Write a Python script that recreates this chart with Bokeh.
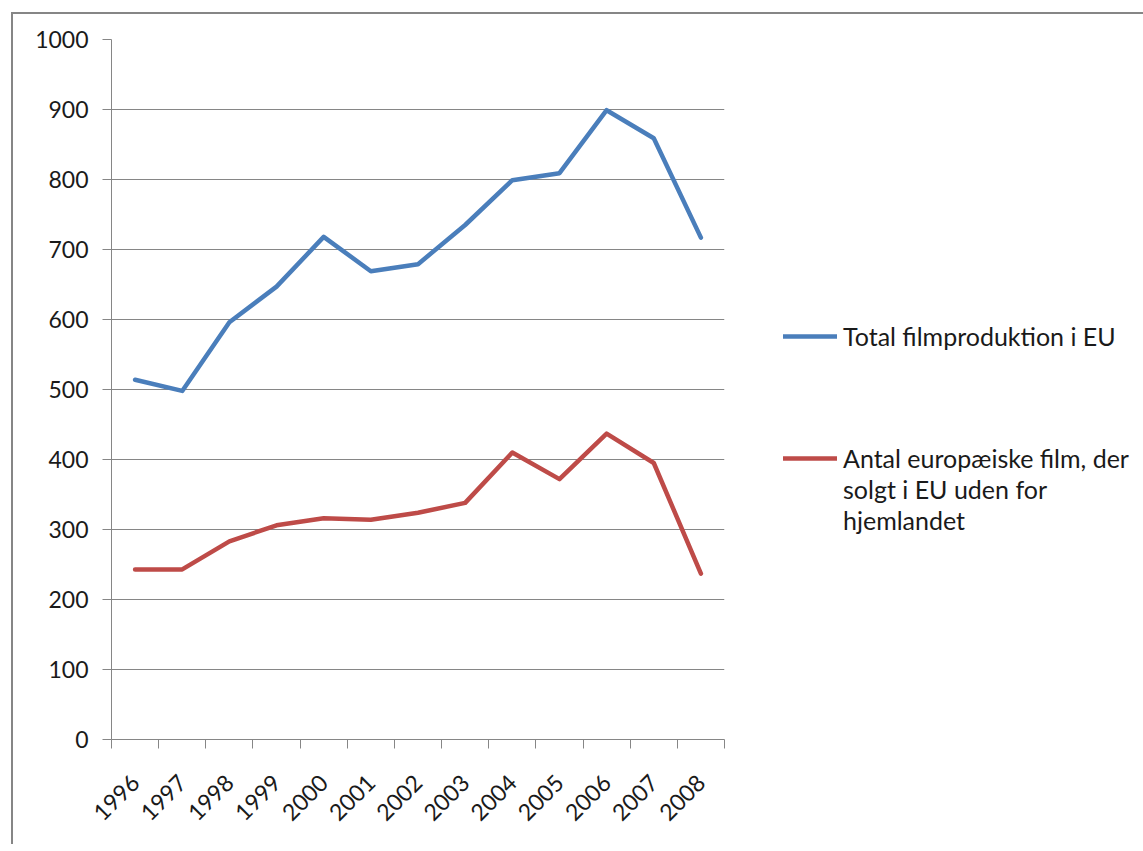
import math
from bokeh.plotting import figure
from bokeh.models import (FixedTicker, Legend, LegendItem, Range1d, LinearAxis, Grid)
from bokeh.embed import file_html
from bokeh.resources import INLINE

years = ["1996", "1997", "1998", "1999", "2000", "2001", "2002",
         "2003", "2004", "2005", "2006", "2007", "2008"]
total_eu = [514, 498, 596, 647, 718, 669, 679, 735, 799, 809, 899, 859, 717]
sold_outside = [243, 243, 283, 306, 316, 314, 324, 338, 410, 372, 437, 395, 237]
y_ticks = [0, 100, 200, 300, 400, 500, 600, 700, 800, 900, 1000]

label_total = "Total filmproduktion i EU"
label_sold = ["Antal europæiske film, der", "solgt i EU uden for", "hjemlandet"]

FONT = "Lato"
AX_FS = "23px"
LEG_FS = "25px"
GRAY = "#868686"
BLUE = "#4A7EBB"
RED = "#BE4B48"

xs = [i + 0.5 for i in range(len(years))]

p = figure(output_backend="svg", toolbar_location=None,
           frame_width=613, frame_height=700,
           x_range=Range1d(0, len(years)), y_range=Range1d(0, 1000),
           min_border_left=98, min_border_top=25,
           min_border_right=405, min_border_bottom=105,
           x_axis_type=None, y_axis_type=None)
p.margin = (12, 0, 0, 11)
p.styles = {"border-left": f"2px solid {GRAY}", "border-top": f"2px solid {GRAY}"}
p.outline_line_color = None
p.background_fill_color = "white"
p.border_fill_color = "white"

# y axis
yax = LinearAxis(ticker=FixedTicker(ticks=y_ticks))
yax.axis_line_color = GRAY
yax.major_tick_line_color = GRAY
yax.major_tick_out = 9
yax.major_tick_in = 0
yax.minor_tick_line_color = None
yax.major_label_text_font = FONT
yax.major_label_text_font_size = AX_FS
yax.major_label_text_color = "#1a1a1a"
yax.major_label_standoff = 14
p.add_layout(yax, "left")

# x axis: labels at category centers, ticks at category boundaries
xax = LinearAxis(ticker=FixedTicker(ticks=xs, minor_ticks=list(range(len(years) + 1))))
xax.major_label_overrides = {x: y for x, y in zip(xs, years)}
xax.axis_line_color = GRAY
xax.major_tick_line_color = None
xax.minor_tick_line_color = GRAY
xax.minor_tick_out = 9
xax.minor_tick_in = 0
xax.major_label_orientation = math.pi / 4
xax.major_label_text_font = FONT
xax.major_label_text_font_size = AX_FS
xax.major_label_text_color = "#1a1a1a"
xax.major_label_standoff = 30
p.add_layout(xax, "below")

g = Grid(dimension=1, ticker=FixedTicker(ticks=y_ticks), grid_line_color=GRAY)
p.add_layout(g)

r1 = p.line(xs, total_eu, line_color=BLUE, line_width=4.5,
            line_join="round", line_cap="round")
r2 = p.line(xs, sold_outside, line_color=RED, line_width=4.5,
            line_join="round", line_cap="round")
dummy = p.line(x=[], y=[], line_alpha=0)

legend = Legend(items=[LegendItem(label=label_total, renderers=[r1]),
                       LegendItem(label="\u00a0\n\u00a0\n\u00a0", renderers=[dummy]),
                       LegendItem(label=label_sold[0], renderers=[r2]),
                       LegendItem(label=label_sold[1], renderers=[dummy]),
                       LegendItem(label=label_sold[2], renderers=[dummy])],
                location=(59, 204),
                border_line_color=None, background_fill_alpha=0, padding=0, margin=0,
                label_text_font=FONT, label_text_font_size=LEG_FS,
                label_text_color="#1a1a1a", glyph_width=54, glyph_height=24,
                label_height=24, label_standoff=6, spacing=1)
p.add_layout(legend, "right")

open("out.html", "w").write(file_html(p, INLINE))
